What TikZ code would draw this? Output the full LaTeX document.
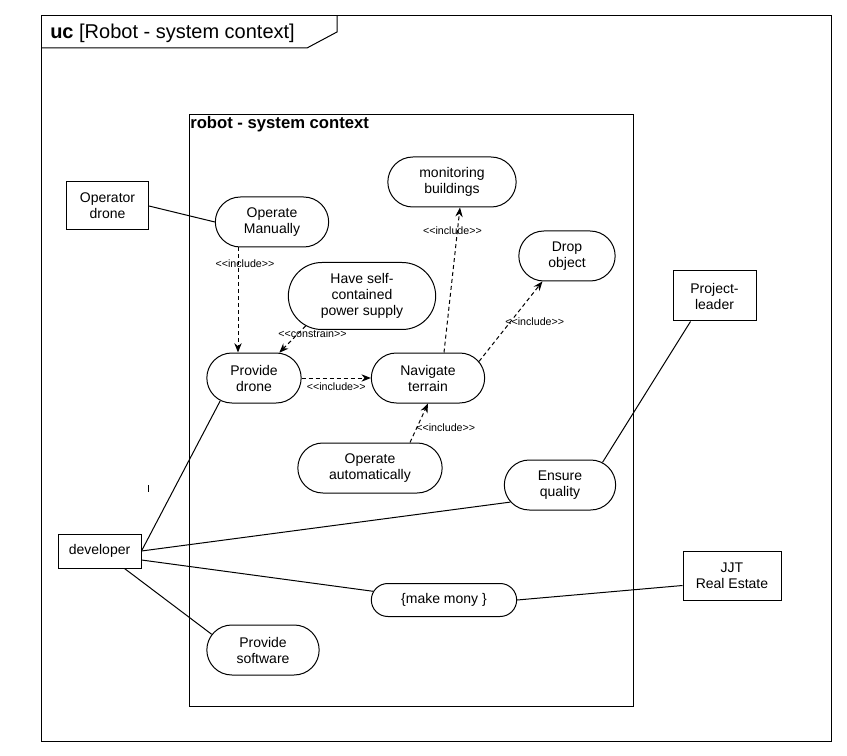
\documentclass[tikz,border=0pt]{standalone}
\usepackage{fontspec}
\setmainfont{Liberation Sans}
\usetikzlibrary{arrows.meta,shapes.misc,calc}
\newcommand{\stereotype}[1]{<\kern0pt<#1>\kern0pt>}

\begin{document}
\begin{tikzpicture}[x=0.75pt,y=-0.75pt,
    usecase/.style={rounded rectangle, draw, line width=0.75pt, minimum height=37.5pt, inner sep=1pt, align=center, font=\fontsize{10.5}{12}\selectfont},
    actor/.style={rectangle, draw, line width=0.75pt, inner sep=1pt, align=center, font=\fontsize{10.5}{12}\selectfont},
    assoc/.style={line width=0.75pt},
    dep/.style={-{Stealth[length=7pt,width=5.5pt]}, dash pattern=on 3pt off 2.25pt, line width=0.75pt},
    stereo/.style={font=\fontsize{8}{9.5}\selectfont, inner sep=1pt}
]
    \useasboundingbox (0,0) rectangle (847,756);

    % frame
    \draw[line width=0.75pt] (41,16) rectangle (831,741);
    \draw[line width=0.75pt] (41,48) -- (307,48) -- (337,32) -- (337,16);
    \node[anchor=base west, inner sep=0pt, font=\fontsize{15}{18}\selectfont] (title) at (50,39) {\textbf{uc} [Robot - system context]};

    % subject
    \draw[line width=0.75pt] (189,115) rectangle (633,706);
    \node[anchor=base west, inner sep=0pt, font=\bfseries\fontsize{12.5}{15}\selectfont] (subject) at (190,129) {robot - system context};

    % use cases
    \node[usecase, minimum width=98.25pt] (monitor) at (452,182) {monitoring\\buildings};
    \node[usecase, minimum width=87pt] (manual) at (272,222) {Operate\\Manually};
    \node[usecase, minimum width=74.25pt] (drop) at (567,256) {Drop\\object};
    \node[usecase, minimum width=112.5pt, minimum height=50.25pt] (power) at (362,296) {Have self-\\contained\\power supply};
    \node[usecase, minimum width=72.75pt] (provide) at (254,378) {Provide\\drone};
    \node[usecase, minimum width=87pt] (navigate) at (428,378) {Navigate\\terrain};
    \node[usecase, minimum width=110.25pt] (auto) at (370,468) {Operate\\automatically};
    \node[usecase, minimum width=85.5pt] (quality) at (560,485) {Ensure\\quality};
    \node[usecase, minimum width=111pt, minimum height=24.75pt] (money) at (444,600) {\{make mony \}};
    \node[usecase, minimum width=86.25pt] (software) at (263,650) {Provide\\software};

    % actors
    \node[actor, minimum width=61.5pt, minimum height=36pt] (operator) at (107.5,206) {Operator\\drone};
    \node[actor, minimum width=62.25pt, minimum height=37.5pt] (leader) at (714.5,296) {Project-\\leader};
    \node[actor, minimum width=62.25pt, minimum height=25.5pt] (developer) at (99.5,551) {developer};
    \node[actor, minimum width=73.5pt, minimum height=36.75pt] (estate) at (732,575.5) {JJT\\Real Estate};

    % associations
    \draw[assoc] (operator.east) -- (manual.west);
    \draw[assoc] ($(leader.south)+(-24,0)$) -- (quality.28);
    \draw[assoc] (developer.east) -- (provide.214);
    \draw[assoc] (developer.east) -- (quality.199);
    \draw[assoc] ($(developer.east)+(0,9)$) -- (money.173);
    \draw[assoc] ($(developer.south)+(25,0)$) -- (software.163);
    \draw[assoc] ($(estate.west)+(0,10)$) -- (money.east);
    \draw[line width=0.75pt] (148,485) -- (148,492);

    % dependencies
    \draw[dep] ($(manual.south)+(-34,0)$) -- node[stereo, pos=0.15, xshift=5.25pt] {\stereotype{include}} ($(provide.north)+(-16,0)$);
    \draw[dep] (power.208) -- node[stereo, pos=0.3, xshift=11pt] {\stereotype{constrain}} (provide.45);
    \draw[dep] (provide.east) -- node[stereo, below=2pt] {\stereotype{include}} (navigate.west);
    \draw[dep] ($(navigate.north)+(16,0)$) -- node[stereo, pos=0.84, xshift=-3.75pt] {\stereotype{include}} ($(monitor.south)+(8,0)$);
    \draw[dep] (navigate.18) -- node[stereo, pos=0.5, xshift=18pt] {\stereotype{include}} (drop.226);
    \draw[dep] ($(auto.north)+(40,0)$) -- node[stereo, pos=0.375, xshift=21.75pt] {\stereotype{include}} (navigate.south);
\end{tikzpicture}
\end{document}
